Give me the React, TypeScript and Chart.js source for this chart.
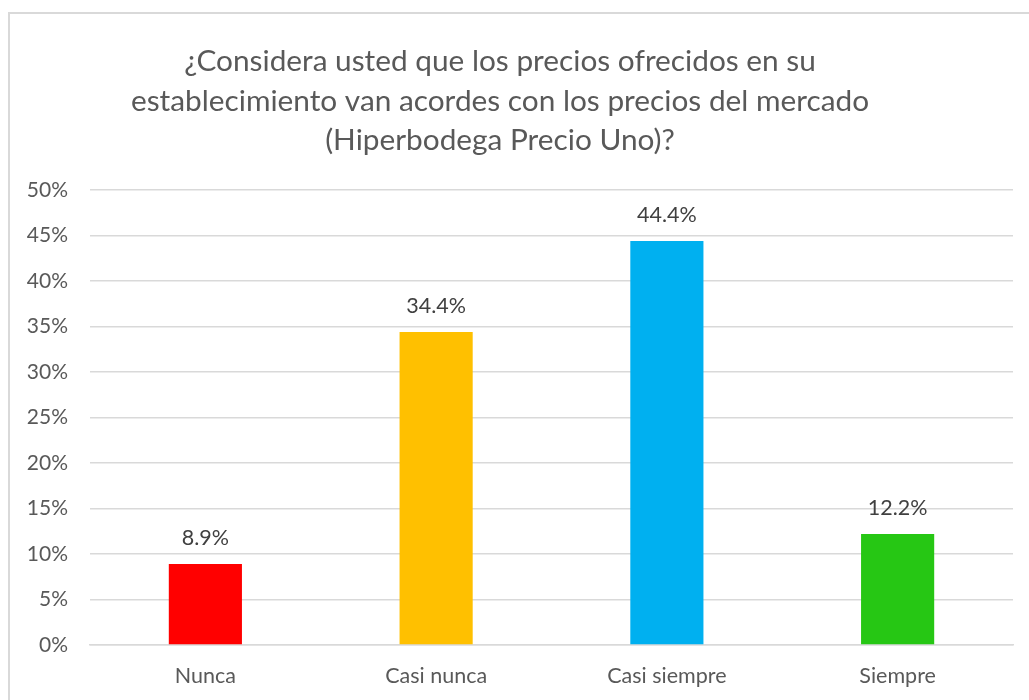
import React, { useEffect, useRef } from "react";
import { Chart, registerables } from "chart.js";

Chart.register(...registerables);

const categories = ["Nunca", "Casi nunca", "Casi siempre", "Siempre"];
const values = [8.9, 34.4, 44.4, 12.2];
const barColors = ["#FF0000", "#FFC000", "#00B0F0", "#26C714"];
const titleLines = [
  "¿Considera usted que los precios ofrecidos en su",
  "establecimiento van acordes con los precios del mercado",
  "(Hiperbodega Precio Uno)?",
];

const FONT = "Lato, 'Noto Sans', sans-serif";

const decor = {
  id: "decor",
  beforeDraw(chart: any) {
    const ctx = chart.ctx;
    ctx.save();
    ctx.fillStyle = "#ffffff";
    ctx.fillRect(0, 0, chart.width, chart.height);
    ctx.strokeStyle = "#d9d9d9";
    ctx.lineWidth = 2;
    ctx.beginPath();
    ctx.moveTo(9, 700);
    ctx.lineTo(9, 13);
    ctx.lineTo(1029, 13);
    ctx.stroke();
    ctx.fillStyle = "#595959";
    ctx.font = `29.8px ${FONT}`;
    ctx.textAlign = "center";
    ctx.textBaseline = "middle";
    const ys = [61, 101, 140];
    titleLines.forEach((t, i) => ctx.fillText(t, 500, ys[i]));
    ctx.restore();
  },
  afterDatasetsDraw(chart: any) {
    const ctx = chart.ctx;
    const meta = chart.getDatasetMeta(0);
    ctx.save();
    ctx.fillStyle = "#404040";
    ctx.font = `21.5px ${FONT}`;
    ctx.textAlign = "center";
    ctx.textBaseline = "middle";
    meta.data.forEach((bar: any, i: number) => {
      ctx.fillText(values[i].toFixed(1) + "%", bar.x, bar.y - 26);
    });
    ctx.restore();
  },
};

export default function App() {
  const ref = useRef<HTMLCanvasElement>(null);
  useEffect(() => {
    if (!ref.current) return;
    const chart = new Chart(ref.current, {
      type: "bar",
      data: {
        labels: categories,
        datasets: [
          {
            data: values,
            backgroundColor: barColors,
            categoryPercentage: 1,
            barPercentage: 0.317,
          },
        ],
      },
      options: {
        animation: false,
        responsive: false,
        layout: { padding: { left: 8, right: 16, top: 190, bottom: 0 } },
        plugins: { legend: { display: false }, title: { display: false }, tooltip: { enabled: false } },
        scales: {
          y: {
            min: 0,
            max: 50,
            ticks: {
              stepSize: 5,
              callback: (v: any) => v + "%",
              color: "#595959",
              font: { family: FONT, size: 21 },
              padding: 22,
            },
            grid: { color: "#d9d9d9", lineWidth: 1.5, drawTicks: false },
            border: { display: false },
            afterFit: (s: any) => {
              s.width = 82;
            },
          },
          x: {
            ticks: {
              color: "#595959",
              font: { family: FONT, size: 21.5 },
              padding: 18,
            },
            grid: { display: false, drawTicks: false },
            border: { display: true, color: "#d9d9d9", width: 1.5 },
            afterFit: (s: any) => {
              s.height = 55;
            },
          },
        },
      },
      plugins: [decor],
    });
    return () => chart.destroy();
  }, []);
  return (
    <div style={{ position: "absolute", left: 0, top: 0, width: 1029, height: 700 }}>
      <canvas ref={ref} width={1029} height={700} style={{ width: 1029, height: 700 }} />
    </div>
  );
}
